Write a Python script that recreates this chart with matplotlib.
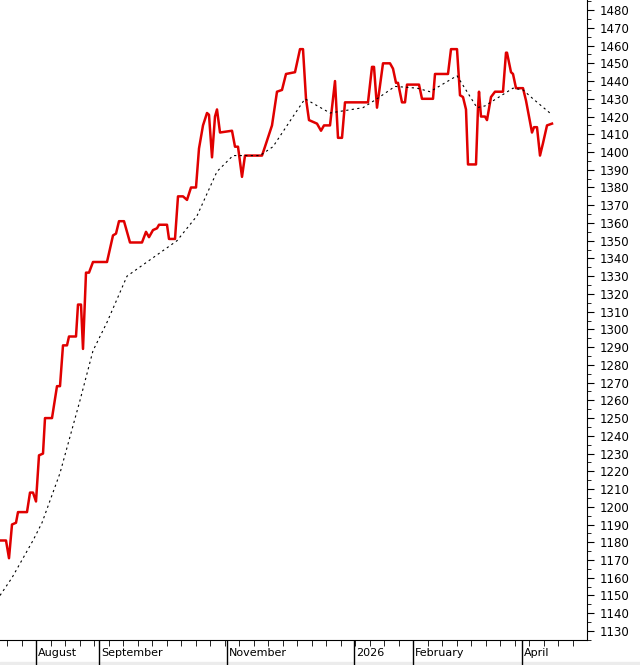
import numpy as np
import matplotlib.pyplot as plt
from matplotlib.ticker import MultipleLocator
from matplotlib.transforms import blended_transform_factory

# --- data: session position / close ---
close_x = [0, 6, 9, 12, 16, 18, 27, 30, 33, 36, 39, 43, 45, 52, 57, 60, 63, 67, 69, 76,
           78, 81, 83, 86, 89, 93, 107, 113, 116, 119, 124, 130, 142, 146, 149, 153, 157,
           159, 167, 169, 175, 178, 183, 187, 191, 196, 199, 203, 207, 209, 212, 215, 217,
           220, 232, 235, 238, 242, 245, 262, 265, 272, 277, 282, 286, 295, 300, 303, 306,
           309, 317, 321, 324, 330, 335, 338, 342, 345, 368, 372, 374, 377, 383, 390, 393,
           396, 398, 402, 405, 407, 419, 422, 433, 435, 448, 451, 457, 460, 463, 466, 468,
           476, 478, 479, 481, 485, 487, 491, 495, 503, 506, 507, 511, 513, 516, 523, 526,
           532, 534, 537, 540, 543, 547, 552]
close_v = [1181, 1181, 1171, 1190, 1191, 1197, 1197, 1208, 1208, 1203, 1229, 1230, 1250, 1250,
           1268, 1268, 1291, 1291, 1296, 1296, 1314, 1314, 1289, 1332, 1332, 1338, 1338, 1353,
           1354, 1361, 1361, 1349, 1349, 1355, 1352, 1356, 1357, 1359, 1359, 1351, 1351, 1375,
           1375, 1373, 1380, 1380, 1402, 1415, 1422, 1421, 1397, 1420, 1424, 1411, 1412, 1403,
           1403, 1386, 1398, 1398, 1403, 1415, 1434, 1435, 1444, 1445, 1458, 1458, 1430, 1418,
           1416, 1412, 1415, 1415, 1440, 1408, 1408, 1428, 1428, 1448, 1448, 1425, 1450, 1450,
           1447, 1439, 1439, 1428, 1428, 1438, 1438, 1430, 1430, 1444, 1444, 1458, 1458, 1432,
           1431, 1424, 1393, 1393, 1425, 1434, 1420, 1420, 1418, 1431, 1434, 1434, 1456, 1456,
           1445, 1444, 1436, 1436, 1429, 1411, 1414, 1414, 1398, 1405, 1415, 1416]
ma_x = [0, 12, 33, 42, 60, 80, 93, 107, 127, 147, 177, 197, 217, 233, 260, 273, 293, 305,
        330, 363, 377, 395, 417, 430, 457, 477, 485, 513, 523, 533, 552]
ma_v = [1150, 1160, 1181, 1191, 1219, 1260, 1288, 1304, 1330, 1338, 1350, 1364, 1389, 1398,
        1398, 1403, 1420, 1430, 1422, 1425, 1430, 1437, 1436, 1434, 1443, 1425, 1426, 1436,
        1435, 1430, 1421]
months = ["August", "September", "November", "2026", "February", "April"]
month_x = [36, 99, 227, 354, 413, 522]

fig = plt.figure(figsize=(6.4, 6.65), dpi=100)
fig.patch.set_facecolor("white")
# grey strip at the very bottom
fig.add_artist(plt.Rectangle((0, 0), 1, 3 / 665, transform=fig.transFigure,
                             color="#ececec", zorder=0))
ax = fig.add_axes([0, 25 / 665, 587 / 640, 640 / 665])
ax.set_facecolor("white")

ax.plot(close_x, close_v, color="#e00000", lw=1.8)
ax.plot(ma_x, ma_v, color="black", lw=0.8, ls=(0, (2, 3)))

ax.set_xlim(0, 587)

# right price scale
ax.yaxis.tick_right()
ax.set_yticks(np.arange(1130, 1490, 10))
ax.yaxis.set_minor_locator(MultipleLocator(5))
ax.tick_params(axis="y", which="major", length=5, labelsize=8.5, pad=4)
ax.tick_params(axis="y", which="minor", length=3)
ax.set_ylim(1124.9, 1485.7)

# bottom time scale
ax.set_xticks(month_x)
ax.set_xticklabels([])
ax.set_xticks(np.arange(7, 587, 14.5), minor=True)
ax.tick_params(axis="x", which="major", length=20, width=1)
ax.tick_params(axis="x", which="minor", length=4)
tr = blended_transform_factory(ax.transData, ax.transAxes)
for m, x in zip(months, month_x):
    ax.text(x + 2, -0.021, m, transform=tr, fontsize=8, va="center", ha="left")

for s in ["top", "left"]:
    ax.spines[s].set_visible(False)

fig.savefig("out.png", dpi=100, facecolor=fig.get_facecolor())
